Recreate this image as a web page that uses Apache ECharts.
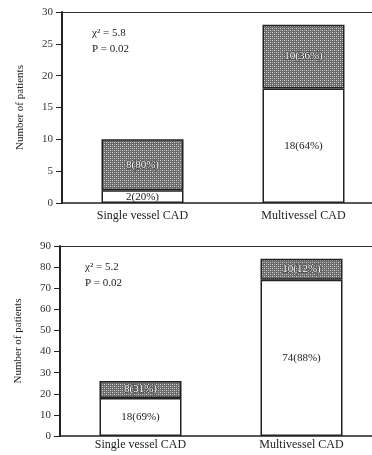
<!DOCTYPE html>
<html><head><meta charset="utf-8">
<script src="https://cdn.jsdelivr.net/npm/echarts@6/dist/echarts.min.js"></script>
<style>html,body{margin:0;padding:0;background:#fff}#c{width:372px;height:455px}</style>
</head><body><div id="c"></div>
<script>
const categories = ['Single vessel CAD', 'Multivessel CAD'];
// Top panel
const topLower = [2, 18];
const topUpper = [8, 10];
const topLowerLbl = ['2(20%)', '18(64%)'];
const topUpperLbl = ['8(80%)', '10(36%)'];
const topTicks = [0, 5, 10, 15, 20, 25, 30];
// Bottom panel
const botLower = [18, 74];
const botUpper = [8, 10];
const botLowerLbl = ['18(69%)', '74(88%)'];
const botUpperLbl = ['8(31%)', '10(12%)'];
const botTicks = [0, 10, 20, 30, 40, 50, 60, 70, 80, 90];
const stats = [['χ² = 5.8', 'P = 0.02'], ['χ² = 5.2', 'P = 0.02']];

function makePattern() {
  const c = document.createElement('canvas');
  c.width = 4; c.height = 4;
  const g = c.getContext('2d');
  g.fillStyle = '#6a6a6a'; g.fillRect(0, 0, 4, 4);
  g.fillStyle = '#d8d8d8';
  g.fillRect(0, 0, 1, 1); g.fillRect(2, 2, 1, 1);
  g.fillStyle = '#a8a8a8';
  g.fillRect(2, 0, 1, 1); g.fillRect(0, 2, 1, 1);
  return c;
}
const pat = { image: makePattern(), repeat: 'repeat' };
const font = "'Liberation Serif', 'DejaVu Serif', serif";

const grids = [
  { left: 62, width: 322, top: 12, height: 191, outerBoundsMode: 'none', containLabel: false },
  { left: 60, width: 322, top: 246, height: 190, outerBoundsMode: 'none', containLabel: false }
];
const ticksArr = [topTicks, botTicks];
const xMargins = [7, 3];
const xAxis = [], yAxis = [], series = [];
[0, 1].forEach(i => {
  xAxis.push({
    type: 'category', gridIndex: i, data: categories,
    axisLine: { lineStyle: { color: '#222', width: 1.5 } },
    axisTick: { show: false },
    axisLabel: { color: '#222', fontFamily: font, fontSize: 12, margin: xMargins[i] }
  });
  xAxis.push({
    type: 'category', gridIndex: i, data: categories, position: 'top',
    axisLine: { show: true, lineStyle: { color: '#333', width: 1.2 } },
    axisTick: { show: false }, axisLabel: { show: false }
  });
  const t = ticksArr[i];
  yAxis.push({
    type: 'value', gridIndex: i, min: t[0], max: t[t.length - 1], interval: t[1] - t[0],
    name: 'Number of patients', nameLocation: 'middle', nameGap: 36,
    nameTextStyle: { fontFamily: font, fontSize: 11, color: '#222' },
    axisLine: { show: true, lineStyle: { color: '#222', width: 2 } },
    axisTick: { show: true, length: 6, lineStyle: { color: '#222' } },
    axisLabel: { color: '#333', fontFamily: font, fontSize: 11, margin: 9 },
    splitLine: { show: false }
  });
});
const lowers = [topLower, botLower], uppers = [topUpper, botUpper];
const lowerL = [topLowerLbl, botLowerLbl], upperL = [topUpperLbl, botUpperLbl];
[0, 1].forEach(i => {
  series.push({
    type: 'bar', xAxisIndex: i * 2, yAxisIndex: i, stack: 's' + i, barWidth: 82,
    data: lowers[i],
    itemStyle: { color: '#fff', borderColor: '#222', borderWidth: 1.5 },
    label: { show: true, position: 'inside', fontFamily: font, fontSize: 11, color: '#222',
      formatter: p => lowerL[i][p.dataIndex] }
  });
  series.push({
    type: 'bar', xAxisIndex: i * 2, yAxisIndex: i, stack: 's' + i, barWidth: 82,
    data: uppers[i],
    itemStyle: { color: pat, borderColor: '#222', borderWidth: 1.5 },
    label: { show: true, position: 'inside', fontFamily: font, fontSize: 11, color: '#fff',
      textBorderColor: '#444', textBorderWidth: 1.5,
      formatter: p => upperL[i][p.dataIndex] }
  });
});
const graphic = [];
[[92, 28], [85, 262]].forEach((pos, i) => {
  graphic.push({ type: 'text', left: pos[0], top: pos[1],
    style: { text: stats[i][0], font: '11px ' + font, fill: '#222' } });
  graphic.push({ type: 'text', left: pos[0], top: pos[1] + 16,
    style: { text: stats[i][1], font: '11px ' + font, fill: '#222' } });
});
const chart = echarts.init(document.getElementById('c'));
chart.setOption({ animation: false, grid: grids, xAxis, yAxis, series, graphic });
</script></body></html>
